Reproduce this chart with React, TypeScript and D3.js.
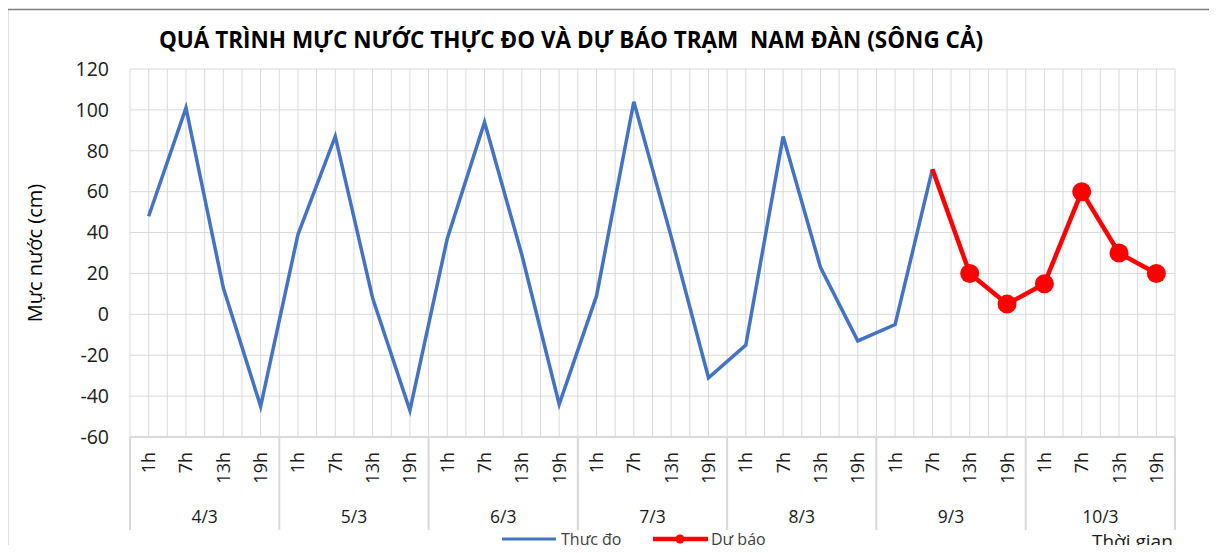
import React, { useEffect, useRef } from 'react';
import * as d3 from 'd3';

const days = ['4/3', '5/3', '6/3', '7/3', '8/3', '9/3', '10/3'];
const hours = ['1h', '7h', '13h', '19h'];
// measured (blue), null where there is no value
const thucDo = [
  48, 101, 13, -45,
  39, 87, 8, -47,
  37, 94, 29, -44,
  9, 104, 38, -31,
  -15, 87, 23, -13,
  -5, 71, null, null,
  null, null, null, null,
];
// forecast (red)
const duBao = [
  null, null, null, null,
  null, null, null, null,
  null, null, null, null,
  null, null, null, null,
  null, null, null, null,
  null, 71, 20, 5,
  15, 60, 30, 20,
];
const yTicks = [-60, -40, -20, 0, 20, 40, 60, 80, 100, 120];

const App = () => {
  const svgRef = useRef<SVGSVGElement>(null);

  useEffect(() => {
    const svg = d3.select(svgRef.current);
    svg.selectAll('*').remove();

    const width = 1217;
    const height = 553;
    const font = '"Open Sans", sans-serif';
    const left = 130, right = 1175, top = 69, bottom = 437;

    const cats = days.flatMap((d) => hours.map((h) => `${d}|${h}`));
    const x = d3.scaleBand().domain(cats).range([left, right]);
    const y = d3.scaleLinear().domain([-60, 120]).range([bottom, top]);
    const cx = (i: number) => (x(cats[i]) as number) + x.bandwidth() / 2;

    svg.attr('width', width).attr('height', height).style('display', 'block');

    svg.append('rect')
      .attr('x', 7.5).attr('y', 9.5).attr('width', 1206).attr('height', 560)
      .attr('fill', '#fff').attr('stroke', '#7f7f7f').attr('stroke-width', 1.5);

    // vertical gridlines: boundaries and centers
    const grid = svg.append('g').attr('stroke', '#d9d9d9').attr('stroke-width', 1);
    for (let i = 0; i <= cats.length; i++) {
      const gx = i < cats.length ? (x(cats[i]) as number) : right;
      grid.append('line').attr('x1', gx).attr('x2', gx).attr('y1', top).attr('y2', bottom);
      if (i < cats.length) {
        grid.append('line').attr('x1', cx(i)).attr('x2', cx(i)).attr('y1', top).attr('y2', bottom);
      }
    }
    yTicks.forEach((t) => {
      grid.append('line').attr('x1', left).attr('x2', right).attr('y1', y(t)).attr('y2', y(t));
    });

    // y tick labels
    svg.append('g').selectAll('text').data(yTicks).join('text')
      .attr('x', 109).attr('y', (d) => y(d)).attr('dy', '0.35em')
      .attr('text-anchor', 'end').attr('font-family', font).attr('font-size', 19.5)
      .attr('fill', '#1a1a1a').text((d) => d);

    svg.append('text')
      .attr('transform', `translate(42,253) rotate(-90)`)
      .attr('text-anchor', 'middle').attr('font-family', font).attr('font-size', 20)
      .attr('fill', '#000').text('Mực nước (cm)');

    // category axis (two levels)
    const ax = svg.append('g');
    ax.append('line').attr('x1', left).attr('x2', right).attr('y1', bottom).attr('y2', bottom)
      .attr('stroke', '#d9d9d9').attr('stroke-width', 2);
    days.forEach((d, di) => {
      const x0 = x(`${d}|1h`) as number;
      ax.append('line').attr('x1', x0).attr('x2', x0).attr('y1', bottom).attr('y2', 530)
        .attr('stroke', '#d9d9d9').attr('stroke-width', 2);
      const x1 = di === days.length - 1 ? right : (x(`${days[di + 1]}|1h`) as number);
      if (di === days.length - 1) {
        ax.append('line').attr('x1', x1).attr('x2', x1).attr('y1', bottom).attr('y2', 530)
          .attr('stroke', '#d9d9d9').attr('stroke-width', 2);
      }
      ax.append('text').attr('x', (x0 + x1) / 2).attr('y', 523)
        .attr('text-anchor', 'middle').attr('font-family', font).attr('font-size', 17.5)
        .attr('fill', '#1a1a1a').text(d);
    });
    cats.forEach((c, i) => {
      ax.append('text')
        .attr('transform', `translate(${cx(i) + 6.5},452) rotate(-90)`)
        .attr('text-anchor', 'end').attr('font-family', font).attr('font-size', 18)
        .attr('fill', '#1a1a1a').text(c.split('|')[1]);
    });

    // lines
    const line = d3.line<number | null>()
      .defined((d) => d !== null)
      .x((_, i) => cx(i))
      .y((d) => y(d as number));

    svg.append('path').datum(thucDo).attr('d', line)
      .attr('fill', 'none').attr('stroke', '#4472c4').attr('stroke-width', 3.5)
      .attr('stroke-linejoin', 'miter');
    svg.append('path').datum(duBao).attr('d', line)
      .attr('fill', 'none').attr('stroke', '#ff0000').attr('stroke-width', 4.5)
      .attr('stroke-linejoin', 'round');
    svg.append('g').selectAll('circle')
      .data(duBao.map((v, i) => ({ v, i })).filter((d) => d.v !== null && d.i > 21))
      .join('circle')
      .attr('cx', (d) => cx(d.i)).attr('cy', (d) => y(d.v as number)).attr('r', 9.5)
      .attr('fill', '#ff0000');

    // title
    svg.append('text').attr('x', 571).attr('y', 48).attr('text-anchor', 'middle')
      .attr('font-family', font).attr('font-size', 22.5).attr('font-weight', 'bold')
      .attr('fill', '#000').attr('xml:space', 'preserve')
      .text('QUÁ TRÌNH MỰC NƯỚC THỰC ĐO VÀ DỰ BÁO TRẠM  NAM ĐÀN (SÔNG CẢ)');

    // legend
    const lg = svg.append('g').attr('font-family', font).attr('font-size', 16).attr('fill', '#404040');
    lg.append('line').attr('x1', 502).attr('x2', 556).attr('y1', 539).attr('y2', 539)
      .attr('stroke', '#4472c4').attr('stroke-width', 3);
    lg.append('text').attr('x', 561).attr('y', 545).text('Thực đo');
    lg.append('line').attr('x1', 653).attr('x2', 708).attr('y1', 539).attr('y2', 539)
      .attr('stroke', '#ff0000').attr('stroke-width', 4.5);
    lg.append('circle').attr('cx', 680).attr('cy', 539).attr('r', 4.5).attr('fill', '#ff0000');
    lg.append('text').attr('x', 711).attr('y', 545).text('Dự báo');

    svg.append('text').attr('x', 1092).attr('y', 548).attr('font-family', font)
      .attr('font-size', 19).attr('fill', '#1a1a1a').text('Thời gian');
  }, []);

  return <svg ref={svgRef} width={1217} height={553} />;
};

export default function Root() {
  return (
    <div style={{ margin: -8 }}>
      <App />
    </div>
  );
}
